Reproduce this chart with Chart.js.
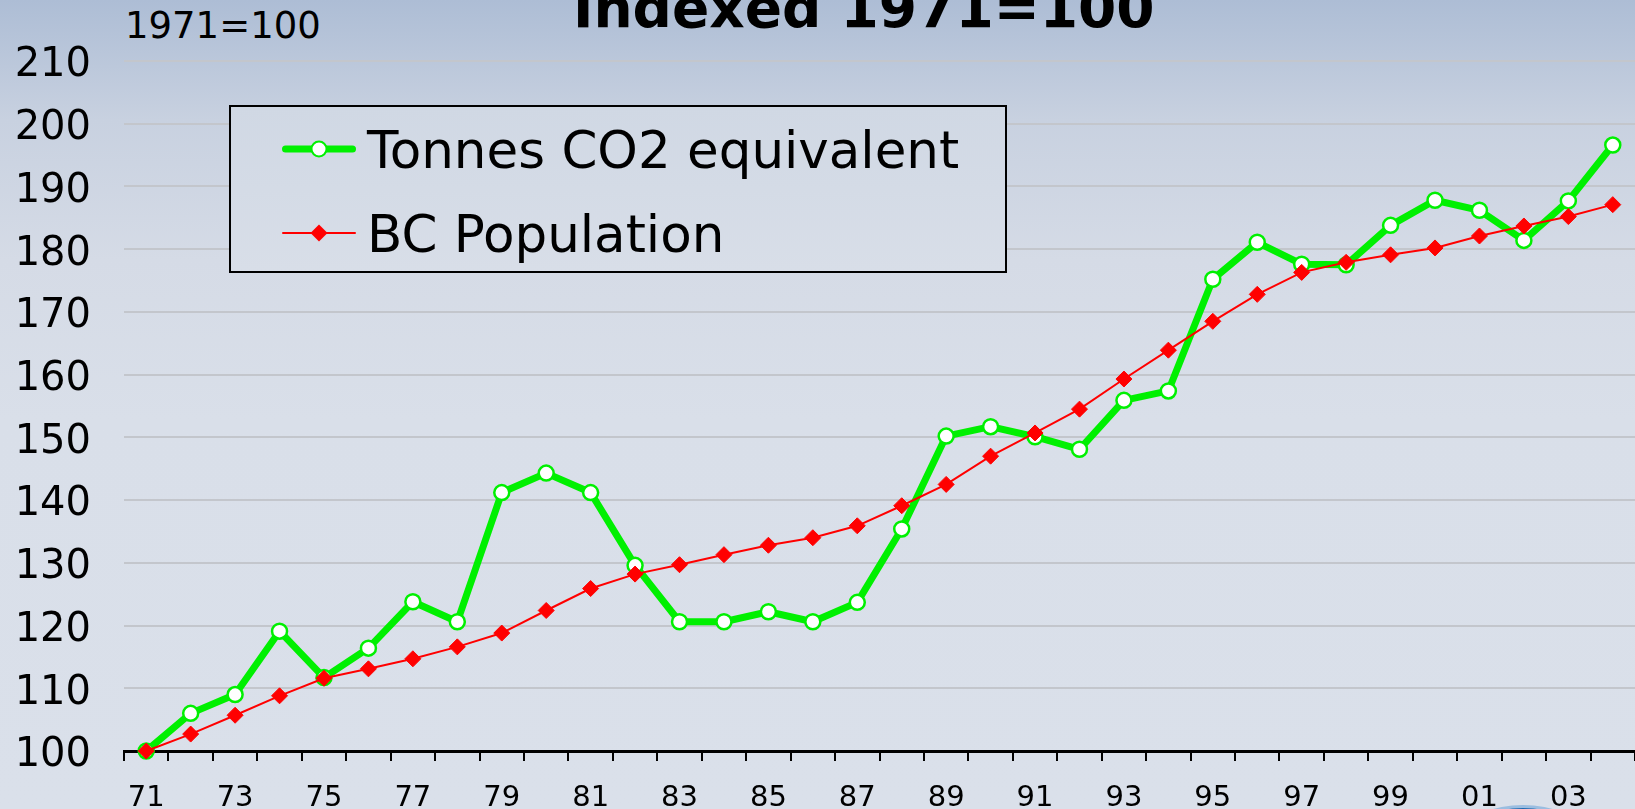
<!DOCTYPE html>
<html lang="en">
<head>
<meta charset="UTF-8">
<title>Indexed 1971=100</title>
<script src="https://cdn.jsdelivr.net/npm/chart.js@4.4.1/dist/chart.umd.min.js"></script>
<style>
    body { margin: 0; font-family: 'DejaVu Sans', sans-serif; }
    .slide {
        position: relative; width: 1635px; height: 809px; overflow: hidden;
        background: linear-gradient(to bottom, #adbdd5 0px, #c8d1e0 120px, #d5dbe6 260px, #d9dfe9 420px, #dae0ea 809px);
    }
    .title { position: absolute; left: 573px; top: -19px; font-size: 55px; font-weight: bold; line-height: 1; white-space: nowrap; }
    .note { position: absolute; left: 125px; top: 7px; font-size: 37px; line-height: 1; white-space: nowrap; }
    #chart { position: absolute; left: 0; top: 0; }
    .legend {
        position: absolute; left: 229px; top: 105px; width: 778px; height: 168px;
        box-sizing: border-box; border: 2px solid #000;
        background: linear-gradient(#d0d8e4, #d8dee8);
    }
    .legend .row { display: flex; align-items: center; height: 84px; }
    .legend .mark { position: relative; width: 74px; height: 20px; margin-left: 51px; margin-right: 11px; }
    .legend .ln { position: absolute; left: 0; right: 0; top: 50%; transform: translateY(-50%); border-radius: 4px; }
    .legend .pt { position: absolute; left: 50%; top: 50%; box-sizing: border-box; }
    .legend .txt { font-size: 51.5px; line-height: 1; padding-top: 3px; white-space: nowrap; }
    .logo {
        position: absolute; left: 1409px; top: 805px; width: 228px; height: 228px; border-radius: 50%;
        box-sizing: border-box; border: 3px solid #9bbde0; background: #1f69b0;
    }
</style>
</head>
<body>
<div class="slide">
    <div class="title">Indexed 1971=100</div>
    <div class="note">1971=100</div>
    <canvas id="chart" width="1635" height="809"></canvas>
    <div class="legend" id="legend"></div>
    <div class="logo"></div>
</div>
<script>
    // years 1971..2004, two-digit labels
    const years = ['71', '72', '73', '74', '75', '76', '77', '78', '79', '80',
        '81', '82', '83', '84', '85', '86', '87', '88', '89', '90',
        '91', '92', '93', '94', '95', '96', '97', '98', '99', '00',
        '01', '02', '03', '04'];

    const co2 = [100, 106.0, 109.0, 119.1, 111.7, 116.4, 123.8, 120.6, 141.2, 144.3,
        141.2, 129.6, 120.6, 120.6, 122.2, 120.6, 123.7, 135.4, 150.2, 151.7,
        150.1, 148.1, 155.9, 157.4, 175.2, 181.1, 177.6, 177.5, 183.8, 187.8,
        186.2, 181.4, 187.7, 196.6];

    const population = [100, 102.7, 105.7, 108.8, 111.6, 113.1, 114.7, 116.6, 118.8, 122.4,
        125.9, 128.2, 129.7, 131.3, 132.8, 134.0, 135.9, 139.1, 142.5, 147.0,
        150.7, 154.5, 159.3, 163.9, 168.5, 172.8, 176.3, 177.9, 179.1, 180.2,
        182.1, 183.7, 185.2, 187.1];

    const yMin = 100, yMax = 210, yStep = 10;

    const font = "'DejaVu Sans', sans-serif";

    const chart = new Chart(document.getElementById('chart'), {
        type: 'line',
        data: {
            labels: years,
            datasets: [{
                label: 'Tonnes CO2 equivalent',
                data: co2,
                borderColor: '#00f000',
                borderWidth: 7,
                borderJoinStyle: 'round',
                pointStyle: 'circle',
                pointRadius: 7.5,
                pointBorderWidth: 2.5,
                pointBackgroundColor: '#ffffff',
                pointBorderColor: '#00f000',
                tension: 0,
                clip: false,
                order: 2
            }, {
                label: 'BC Population',
                data: population,
                borderColor: '#ff0000',
                borderWidth: 2,
                pointStyle: 'rectRot',
                pointRadius: 8,
                pointBorderWidth: 1,
                pointBackgroundColor: '#ff0000',
                pointBorderColor: '#ff0000',
                tension: 0,
                clip: false,
                order: 1
            }]
        },
        options: {
            responsive: false,
            animation: false,
            devicePixelRatio: 1,
            layout: { autoPadding: false, padding: { top: 61, right: 0, bottom: 0, left: 0 } },
            plugins: {
                legend: { display: false },
                title: { display: false },
                tooltip: { enabled: false }
            },
            scales: {
                x: {
                    offset: true,
                    afterFit: s => { s.height = 58; },
                    grid: {
                        offset: true,
                        drawOnChartArea: false,
                        drawTicks: true,
                        tickLength: 10,
                        color: '#000',
                        lineWidth: 2
                    },
                    border: { display: true, color: '#000', width: 3 },
                    ticks: {
                        autoSkip: false,
                        maxRotation: 0,
                        padding: 20,
                        color: '#000',
                        font: { family: font, size: 29 },
                        callback: function (v, i) { return i % 2 === 0 ? this.getLabelForValue(v) : ''; }
                    }
                },
                y: {
                    min: yMin,
                    max: yMax,
                    afterFit: s => { s.width = 124; },
                    grid: {
                        drawTicks: false,
                        color: '#c3c6cc',
                        lineWidth: 2
                    },
                    border: { display: false },
                    ticks: {
                        stepSize: yStep,
                        padding: 33,
                        labelOffset: 5,
                        color: '#000',
                        font: { family: font, size: 40 }
                    }
                }
            }
        }
    });

    // legend box built from the datasets
    const legendEl = document.getElementById('legend');
    chart.data.datasets.forEach(ds => {
        const row = document.createElement('div');
        row.className = 'row';
        const mark = document.createElement('div');
        mark.className = 'mark';
        const ln = document.createElement('div');
        ln.className = 'ln';
        ln.style.height = ds.borderWidth + 'px';
        ln.style.background = ds.borderColor;
        const pt = document.createElement('div');
        pt.className = 'pt';
        if (ds.pointStyle === 'circle') {
            const d = 2 * ds.pointRadius + 2;
            pt.style.width = d + 'px';
            pt.style.height = d + 'px';
            pt.style.borderRadius = '50%';
            pt.style.background = ds.pointBackgroundColor;
            pt.style.border = ds.pointBorderWidth + 'px solid ' + ds.pointBorderColor;
            pt.style.transform = 'translate(-50%, -50%)';
        } else {
            const s = 12;
            pt.style.width = s + 'px';
            pt.style.height = s + 'px';
            pt.style.background = ds.pointBackgroundColor;
            pt.style.transform = 'translate(-50%, -50%) rotate(45deg)';
        }
        mark.appendChild(ln);
        mark.appendChild(pt);
        const txt = document.createElement('span');
        txt.className = 'txt';
        txt.textContent = ds.label;
        row.appendChild(mark);
        row.appendChild(txt);
        legendEl.appendChild(row);
    });
</script>
</body>
</html>
